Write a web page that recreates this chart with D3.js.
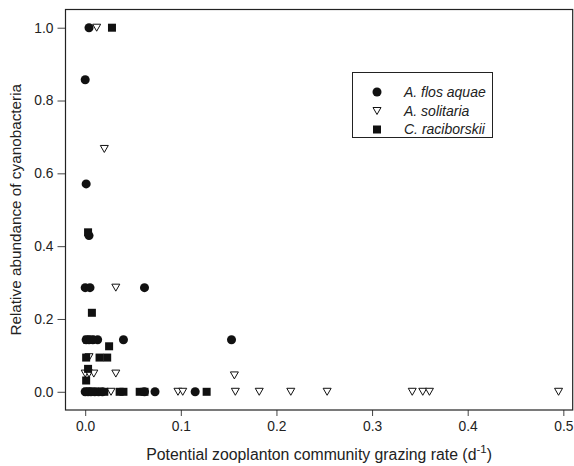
<!DOCTYPE html>
<html><head><meta charset="utf-8">
<script src="https://cdn.jsdelivr.net/npm/d3@7"></script>
<style>body{margin:0;background:#fff}svg{display:block}text{font-family:"Liberation Sans",Arial,sans-serif}</style>
</head><body><svg id="c" width="574" height="466"></svg>
<script>
const seriesNames = ["A. flos aquae", "A. solitaria", "C. raciborskii"];
const flosX = [0.004,0.000,0.001,0.004,0.000,0.005,0.062,0.001,0.004,0.008,0.013,0.040,0.153,0.000,0.003,0.006,0.010,0.014,0.018,0.062,0.073,0.115];
const flosY = [1.0,0.857,0.571,0.429,0.286,0.286,0.286,0.143,0.143,0.143,0.143,0.143,0.143,0,0,0,0,0,0,0,0,0];
const soliX = [0.012,0.020,0.032,0.004,0.000,0.004,0.009,0.032,0.156,0.005,0.027,0.097,0.102,0.157,0.182,0.215,0.253,0.342,0.353,0.360,0.495];
const soliY = [1.0,0.667,0.286,0.095,0.05,0.05,0.05,0.05,0.045,0,0,0,0,0,0,0,0,0,0,0,0];
const raciX = [0.028,0.003,0.007,0.002,0.006,0.025,0.001,0.015,0.023,0.003,0.001,0.002,0.008,0.020,0.036,0.040,0.057,0.062,0.127];
const raciY = [1.0,0.438,0.217,0.143,0.143,0.125,0.094,0.094,0.094,0.063,0.031,0,0,0,0,0,0,0,0];
const xTicks = [0.0,0.1,0.2,0.3,0.4,0.5];
const yTicks = [0.0,0.2,0.4,0.6,0.8,1.0];

const svg = d3.select("#c");
const L=65.5,R=572.7,T=9.5,B=410;
const x = d3.scaleLinear().domain([-0.0206,0.5098]).range([L,R]);
const y = d3.scaleLinear().domain([-0.05,1.05]).range([B,T]);

const fs = "13.8px";
const xa = svg.append("g").attr("transform",`translate(0,${B})`)
  .call(d3.axisBottom(x).tickValues(xTicks).tickFormat(d3.format(".1f")).tickSizeOuter(0).tickSize(6).tickPadding(5));
const ya = svg.append("g").attr("transform",`translate(${L},0)`)
  .call(d3.axisLeft(y).tickValues(yTicks).tickFormat(d3.format(".1f")).tickSizeOuter(0).tickSize(8).tickPadding(4));
[xa,ya].forEach(a=>{a.select(".domain").remove();a.selectAll("line").attr("stroke","#444");a.selectAll("text").attr("fill","#222").style("font-size",fs);});

svg.append("rect").attr("x",L).attr("y",T).attr("width",R-L).attr("height",B-T)
  .attr("fill","none").attr("stroke","#222").attr("stroke-width",1.2);

const g = svg.append("g");
const circ = d3.symbol().type(d3.symbolCircle).size(64);
const tri = d=>{const w=8,h=7;return `M${-w/2},${-h/2}L${w/2},${-h/2}L0,${h/2}Z`;};
function drawCircles(xs,ys){g.selectAll(null).data(xs.map((v,i)=>[v,ys[i]])).enter().append("path")
  .attr("d",circ).attr("transform",d=>`translate(${x(d[0])},${y(d[1])})`).attr("fill","#111");}
function drawTris(xs,ys){g.selectAll(null).data(xs.map((v,i)=>[v,ys[i]])).enter().append("path")
  .attr("d",tri).attr("transform",d=>`translate(${x(d[0])},${y(d[1])})`).attr("fill","#fff").attr("stroke","#111").attr("stroke-width",1);}
function drawSquares(xs,ys){g.selectAll(null).data(xs.map((v,i)=>[v,ys[i]])).enter().append("rect")
  .attr("x",d=>x(d[0])-4).attr("y",d=>y(d[1])-4).attr("width",8).attr("height",8).attr("fill","#111");}
drawCircles(flosX,flosY);
drawTris(soliX,soliY);
drawSquares(raciX,raciY);

// legend
const lg = svg.append("g");
lg.append("rect").attr("x",352.5).attr("y",72.5).attr("width",140).attr("height",65).attr("fill","#fff").attr("stroke","#222").attr("stroke-width",1);
const ly=[92,111,129.5], lx=377;
lg.append("path").attr("d",circ).attr("transform",`translate(${lx},${ly[0]})`).attr("fill","#111");
lg.append("path").attr("d",tri).attr("transform",`translate(${lx},${ly[1]})`).attr("fill","#fff").attr("stroke","#111");
lg.append("rect").attr("x",lx-4).attr("y",ly[2]-4).attr("width",8).attr("height",8).attr("fill","#111");
seriesNames.forEach((s,i)=>lg.append("text").attr("x",404).attr("y",ly[i]).attr("dy","0.35em")
  .style("font-size","14px").style("font-style","italic").attr("fill","#222").text(s));

// axis titles
const xt = svg.append("text").attr("x",(L+R)/2).attr("y",460).attr("text-anchor","middle").style("font-size","15.8px").attr("fill","#222");
xt.append("tspan").text("Potential zooplanton community grazing rate (d");
xt.append("tspan").attr("dy",-7).style("font-size","11.5px").text("-1");
xt.append("tspan").attr("dy",7).text(")");
svg.append("text").attr("transform",`translate(20.5,${(T+B)/2}) rotate(-90)`).attr("text-anchor","middle")
  .style("font-size","15.3px").attr("fill","#222").text("Relative abundance of cyanobacteria");
</script></body></html>
